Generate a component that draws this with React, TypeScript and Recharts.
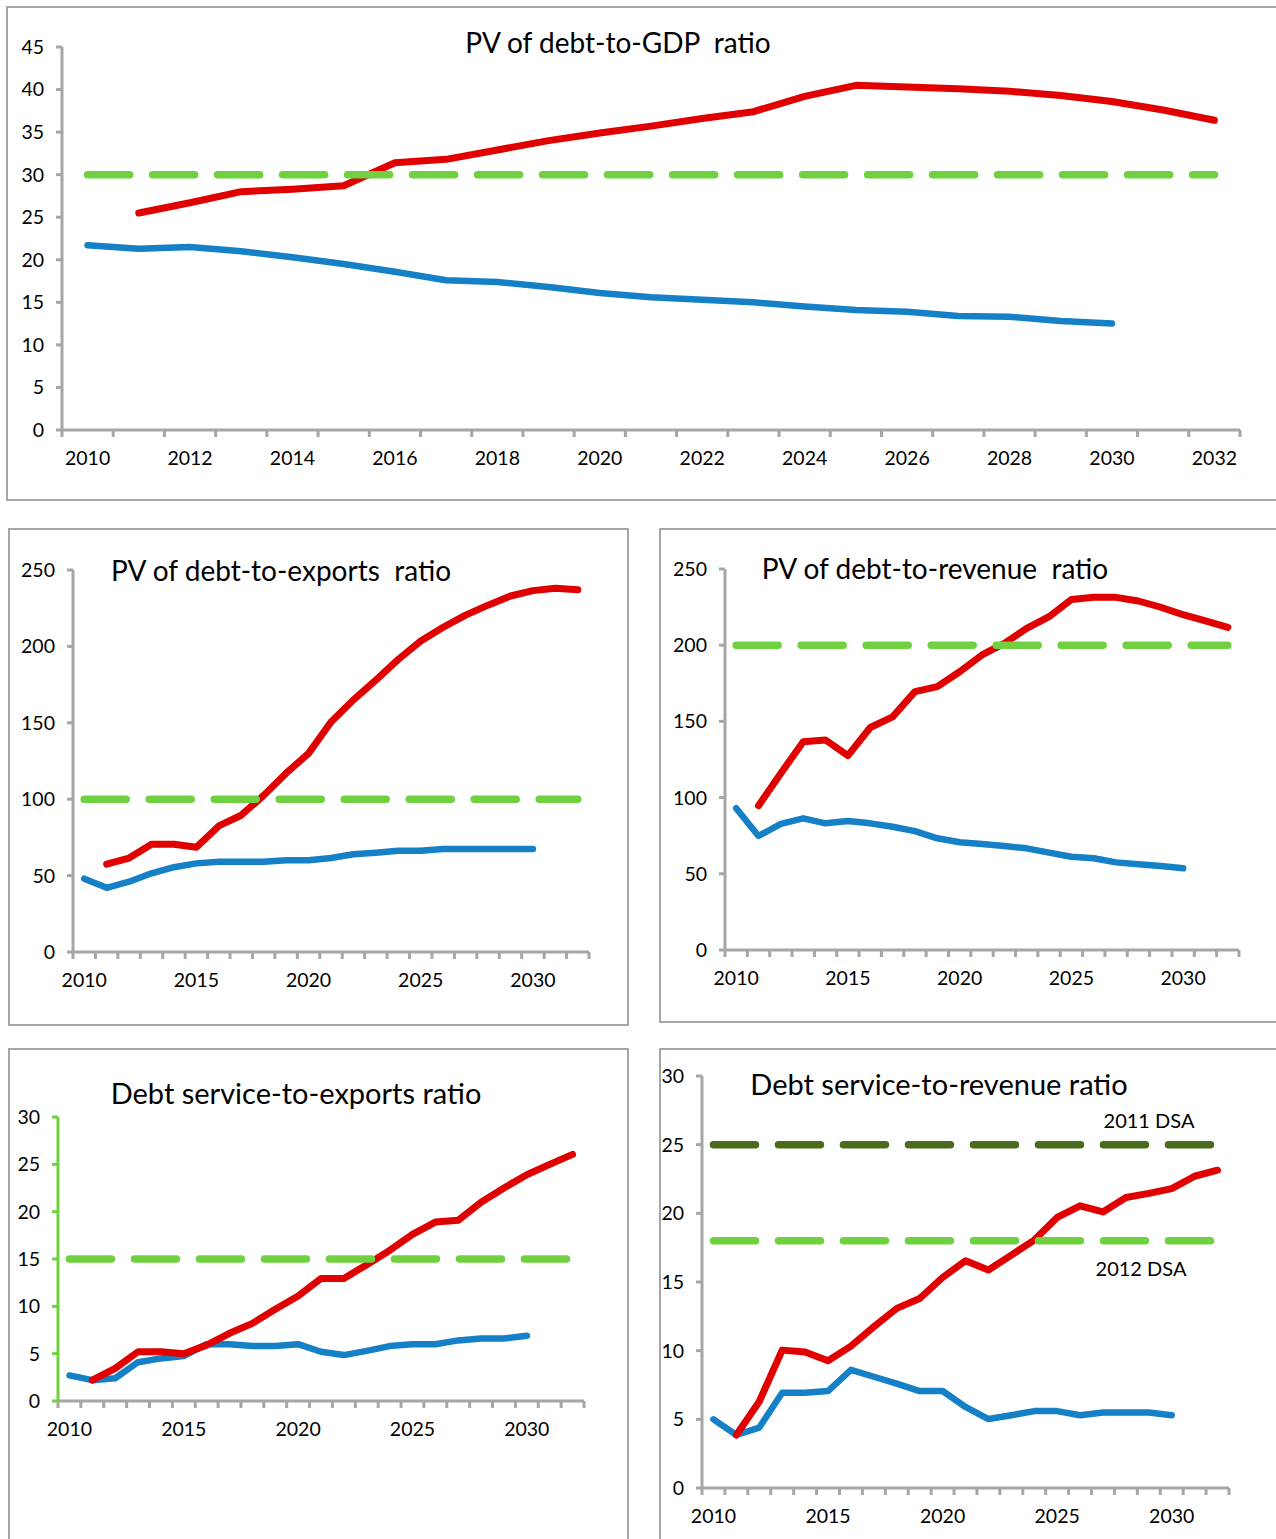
import React from 'react';
import { LineChart, Line, XAxis, YAxis } from 'recharts';

const years = [
  2010, 2011, 2012, 2013, 2014, 2015, 2016, 2017, 2018, 2019, 2020, 2021,
  2022, 2023, 2024, 2025, 2026, 2027, 2028, 2029, 2030, 2031, 2032,
];

// blue = 2011 DSA baseline (2010-2030), red = 2012 DSA baseline (2011-2032)
const gdp2011 = [21.7, 21.3, 21.5, 21.0, 20.3, 19.5, 18.6, 17.6, 17.4, 16.8, 16.1, 15.6, 15.3, 15.0, 14.5, 14.1, 13.9, 13.4, 13.3, 12.8, 12.5, null, null];
const gdp2012 = [null, 25.5, 26.7, 28.0, 28.3, 28.7, 31.4, 31.8, 32.9, 34.0, 34.9, 35.7, 36.6, 37.4, 39.2, 40.5, 40.3, 40.1, 39.8, 39.3, 38.6, 37.6, 36.4];

const exp2011 = [48, 42, 46, 51.5, 55.5, 58, 59, 59, 59, 60, 60, 61.5, 64, 65, 66.3, 66.3, 67.4, 67.4, 67.4, 67.4, 67.4, null, null];
const exp2012 = [null, 57.5, 61.5, 70.5, 70.5, 68.5, 82.5, 89.5, 102.5, 117, 130, 150.5, 165, 178, 191.5, 203.5, 212.5, 220.5, 227, 233, 236.5, 238, 237];

const rev2011 = [93, 74.8, 82.7, 86.4, 83.1, 84.6, 83.1, 80.9, 78, 73.3, 70.7, 69.6, 68.2, 66.7, 63.9, 61.2, 60.2, 57.5, 56.2, 55.1, 53.6, null, null];
const rev2012 = [null, 94.7, 116, 136.7, 137.8, 127.5, 146, 153, 169.5, 172.8, 182.6, 193.6, 201.2, 211, 218.7, 230, 231.4, 231.4, 229, 224.9, 220, 216, 211.7];

const dsExp2011 = [2.7, 2.2, 2.4, 4.1, 4.5, 4.75, 6.0, 6.0, 5.8, 5.8, 6.0, 5.2, 4.85, 5.3, 5.8, 6.0, 6.0, 6.4, 6.6, 6.6, 6.9, null, null];
const dsExp2012 = [null, 2.2, 3.45, 5.2, 5.2, 5.0, 5.9, 7.15, 8.2, 9.7, 11.1, 12.95, 12.95, 14.4, 15.9, 17.6, 18.9, 19.1, 21.0, 22.5, 23.9, 25.0, 26.05];

const dsRev2011 = [5.0, 3.86, 4.4, 6.94, 6.94, 7.06, 8.6, 8.1, 7.6, 7.06, 7.06, 5.9, 5.02, 5.3, 5.6, 5.6, 5.3, 5.5, 5.5, 5.5, 5.3, null, null];
const dsRev2012 = [null, 3.86, 6.3, 10.04, 9.9, 9.27, 10.33, 11.74, 13.08, 13.8, 15.33, 16.55, 15.87, 16.96, 18.05, 19.7, 20.55, 20.1, 21.15, 21.45, 21.8, 22.7, 23.14];

// thresholds
const gdpThreshold = 30;
const expThreshold = 100;
const revThreshold = 200;
const dsExpThreshold = 15;
const dsRevThreshold2011 = 25;
const dsRevThreshold2012 = 18;

// tick labels
const gdpTicks = [0, 5, 10, 15, 20, 25, 30, 35, 40, 45];
const pvTicks = [0, 50, 100, 150, 200, 250];
const dsTicks = [0, 5, 10, 15, 20, 25, 30];
const gdpLabelYears = [2010, 2012, 2014, 2016, 2018, 2020, 2022, 2024, 2026, 2028, 2030, 2032];
const labelYears = [2010, 2015, 2020, 2025, 2030];

const RED = '#E00000';
const BLUE = '#1580C6';
const GREEN = '#6FD13F';
const DARK_GREEN = '#4A6B1E';
const AXIS = '#A6A6A6';
const FONT = 'Lato, "Open Sans", sans-serif';

const bounds = [...years.map((y) => y - 0.5), years[years.length - 1] + 0.5];

function buildRows(blue: (number | null)[], red: (number | null)[], t1: number, t2?: number) {
  return years.map((year, i) => ({ year, dsa2011: blue[i], dsa2012: red[i], t1, t2 }));
}

const YearTick = (props: any) => {
  const { x, y, payload } = props;
  const v = payload.value as number;
  if (v % 1 !== 0) {
    return <line x1={x} x2={x} y1={y} y2={y + 7} stroke={AXIS} strokeWidth={3} />;
  }
  return (
    <text x={x} y={y + 27} textAnchor="middle" dominantBaseline="central" fontSize={19.5} fontFamily={FONT} fill="#000">
      {v}
    </text>
  );
};

interface PanelProps {
  left: number;
  top: number;
  width: number;
  height: number;
  yWidth: number;
  margin: { top: number; right: number; bottom: number; left: number };
  yMax: number;
  yTicks: number[];
  xLabels: number[];
  rows: any[];
  t2Color?: string;
  t1Color: string;
  yAxisColor?: string;
}

function Panel(p: PanelProps) {
  const yColor = p.yAxisColor || AXIS;
  return (
    <div style={{ position: 'absolute', left: p.left, top: p.top }}>
      <LineChart width={p.width} height={p.height} data={p.rows} margin={p.margin}>
        <XAxis
          dataKey="year"
          type="number"
          domain={[bounds[0], bounds[bounds.length - 1]]}
          ticks={[...bounds, ...p.xLabels].sort((a, b) => a - b)}
          interval={0}
          tickSize={0}
          tickMargin={0}
          tickLine={false}
          axisLine={{ stroke: AXIS, strokeWidth: 3 }}
          height={40}
          tick={(t: any) => <YearTick {...t} />}
        />
        <YAxis
          type="number"
          domain={[0, p.yMax]}
          ticks={p.yTicks}
          interval={0}
          width={p.yWidth}
          tickSize={6}
          tickMargin={12}
          tickLine={{ stroke: yColor, strokeWidth: 3 }}
          axisLine={{ stroke: yColor, strokeWidth: 3 }}
          tick={{ fill: '#000', fontSize: 19.5, fontFamily: FONT }}
        />
        <Line dataKey="dsa2011" stroke={BLUE} strokeWidth={6.5} dot={false} activeDot={false} isAnimationActive={false} strokeLinecap="round" strokeLinejoin="round" />
        <Line dataKey="dsa2012" stroke={RED} strokeWidth={7} dot={false} activeDot={false} isAnimationActive={false} strokeLinecap="round" strokeLinejoin="round" />
        {p.t2Color && (
          <Line dataKey="t2" stroke={p.t2Color} strokeWidth={7.5} strokeDasharray="42 23" strokeLinecap="round" dot={false} activeDot={false} isAnimationActive={false} />
        )}
        <Line dataKey="t1" stroke={p.t1Color} strokeWidth={7.5} strokeDasharray="42 23" strokeLinecap="round" dot={false} activeDot={false} isAnimationActive={false} />
      </LineChart>
    </div>
  );
}

const Frame = ({ left, top, width, height }: { left: number; top: number; width: number; height: number }) => (
  <div style={{ position: 'absolute', left, top, width, height, border: `2px solid ${AXIS}`, boxSizing: 'border-box' }} />
);

const Label = ({ x, y, size, children }: { x: number; y: number; size: number; children: React.ReactNode }) => (
  <div
    style={{
      position: 'absolute',
      left: x,
      top: y,
      transform: 'translate(-50%, -50%)',
      fontSize: size,
      lineHeight: 1,
      whiteSpace: 'pre',
      color: '#000',
      fontFamily: FONT,
    }}
  >
    {children}
  </div>
);

export default function App() {
  return (
    <div style={{ position: 'absolute', left: 0, top: 0, width: 1276, height: 1539, overflow: 'hidden', background: '#fff', fontFamily: FONT }}>
      <Frame left={6} top={6} width={1300} height={495} />
      <Frame left={8} top={528} width={621} height={498} />
      <Frame left={659} top={528} width={650} height={495} />
      <Frame left={8} top={1048} width={621} height={520} />
      <Frame left={659} top={1048} width={650} height={520} />

      <Panel
        left={0} top={0} width={1276} height={500} yWidth={62}
        margin={{ top: 47, right: 36, bottom: 30, left: 0 }}
        yMax={45} yTicks={gdpTicks} xLabels={gdpLabelYears}
        rows={buildRows(gdp2011, gdp2012, gdpThreshold)} t1Color={GREEN}
      />
      <Panel
        left={8} top={528} width={620} height={497} yWidth={65}
        margin={{ top: 42, right: 39, bottom: 33, left: 0 }}
        yMax={250} yTicks={pvTicks} xLabels={labelYears}
        rows={buildRows(exp2011, exp2012, expThreshold)} t1Color={GREEN}
      />
      <Panel
        left={659} top={528} width={617} height={494} yWidth={66}
        margin={{ top: 41, right: 37, bottom: 32, left: 0 }}
        yMax={250} yTicks={pvTicks} xLabels={labelYears}
        rows={buildRows(rev2011, rev2012, revThreshold)} t1Color={GREEN}
      />
      <Panel
        left={8} top={1048} width={620} height={491} yWidth={50}
        margin={{ top: 69, right: 44, bottom: 98, left: 0 }}
        yMax={30} yTicks={dsTicks} xLabels={labelYears}
        rows={buildRows(dsExp2011, dsExp2012, dsExpThreshold)} t1Color={GREEN} yAxisColor={GREEN}
      />
      <Panel
        left={659} top={1048} width={617} height={491} yWidth={43}
        margin={{ top: 28, right: 47, bottom: 11, left: 0 }}
        yMax={30} yTicks={dsTicks} xLabels={labelYears}
        rows={buildRows(dsRev2011, dsRev2012, dsRevThreshold2012, dsRevThreshold2011)}
        t1Color={GREEN} t2Color={DARK_GREEN}
      />

      <Label x={618} y={42} size={28}>PV of debt-to-GDP  ratio</Label>
      <Label x={281} y={570} size={28}>PV of debt-to-exports  ratio</Label>
      <Label x={935} y={568} size={28}>PV of debt-to-revenue  ratio</Label>
      <Label x={296} y={1092} size={29}>Debt service-to-exports ratio</Label>
      <Label x={939} y={1083} size={29}>Debt service-to-revenue ratio</Label>
      <Label x={1149} y={1120} size={20}>2011 DSA</Label>
      <Label x={1141} y={1268} size={20}>2012 DSA</Label>
    </div>
  );
}
